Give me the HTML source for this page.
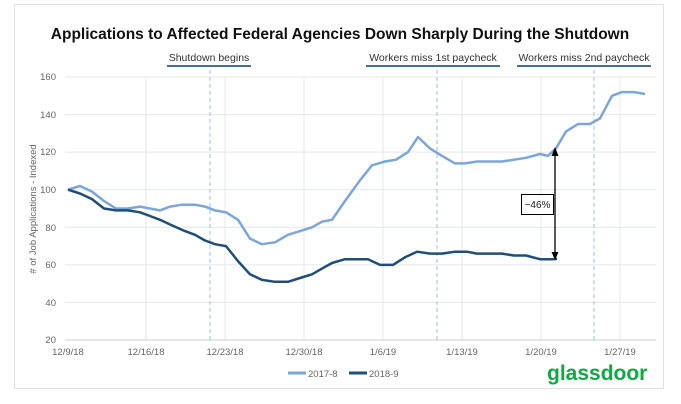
<!DOCTYPE html>
<html><head><meta charset="utf-8"><style>
body{margin:0;background:#fff;}
svg{display:block;font-family:"Liberation Sans",sans-serif;}
</style></head><body>
<svg width="681" height="404" viewBox="0 0 681 404">
<rect x="14.5" y="4.5" width="649" height="384" fill="#fff" stroke="#e2e2e2"/>
<text x="340" y="39" text-anchor="middle" font-size="15.5" font-weight="bold" fill="#111">Applications to Affected Federal Agencies Down Sharply During the Shutdown</text>
<g font-size="10.5" fill="#333" text-anchor="middle">
<text x="209" y="61">Shutdown begins</text>
<text x="433" y="61">Workers miss 1st paycheck</text>
<text x="584" y="61">Workers miss 2nd paycheck</text>
</g>
<g stroke="#3f6fa6" stroke-width="2">
<line x1="167" y1="66" x2="251" y2="66"/>
<line x1="366" y1="66" x2="500" y2="66"/>
<line x1="517" y1="66" x2="651" y2="66"/>
</g>
<g stroke="#e4e7ec" stroke-width="1">
<line x1="65" y1="77" x2="656" y2="77"/>
<line x1="65" y1="114.6" x2="656" y2="114.6"/>
<line x1="65" y1="152.1" x2="656" y2="152.1"/>
<line x1="65" y1="189.7" x2="656" y2="189.7"/>
<line x1="65" y1="227.3" x2="656" y2="227.3"/>
<line x1="65" y1="264.9" x2="656" y2="264.9"/>
<line x1="65" y1="302.4" x2="656" y2="302.4"/>
<line x1="146" y1="77" x2="146" y2="340"/>
<line x1="225" y1="77" x2="225" y2="340"/>
<line x1="304" y1="77" x2="304" y2="340"/>
<line x1="383" y1="77" x2="383" y2="340"/>
<line x1="462" y1="77" x2="462" y2="340"/>
<line x1="541" y1="77" x2="541" y2="340"/>
<line x1="620" y1="77" x2="620" y2="340"/>
</g>
<line x1="65" y1="340" x2="656" y2="340" stroke="#ccd" />
<g stroke="#9fbfe0" stroke-width="1" stroke-dasharray="4,3">
<line x1="210" y1="70" x2="210" y2="340"/>
<line x1="437" y1="70" x2="437" y2="340"/>
<line x1="594" y1="70" x2="594" y2="340"/>
</g>
<g font-size="9.5" fill="#666" text-anchor="end">
<text x="56" y="80">160</text><text x="56" y="118">140</text><text x="56" y="155">120</text><text x="56" y="193">100</text><text x="56" y="231">80</text><text x="56" y="268">60</text><text x="56" y="306">40</text><text x="56" y="343">20</text>
</g>
<g font-size="9.5" fill="#666" text-anchor="middle">
<text x="68" y="355">12/9/18</text><text x="146" y="355">12/16/18</text><text x="225" y="355">12/23/18</text><text x="304" y="355">12/30/18</text><text x="383" y="355">1/6/19</text><text x="462" y="355">1/13/19</text><text x="541" y="355">1/20/19</text><text x="620" y="355">1/27/19</text>
</g>
<text transform="translate(36,209) rotate(-90)" font-size="9.5" fill="#666" text-anchor="middle"># of Job Applications - Indexed</text>
<polyline fill="none" stroke="#7aa6da" stroke-width="2.5" stroke-linejoin="round" points="68,189.7 80,186 92,191.6 104,201 116,208.5 128,208.5 140,206.6 150,208.5 160,210.4 170,206.6 182,204.7 195,204.7 205,206.6 215,210.4 226,212.3 238,219.8 250,238.6 262,244.2 275,242.3 288,234.8 300,231.1 312,227.3 322,221.7 332,219.8 345,201 360,180.3 372,165.3 385,161.5 396,159.7 408,152.1 418,137.1 430,148.4 442,155.9 455,163.4 465,163.4 477,161.5 490,161.5 502,161.5 514,159.7 526,157.8 540,154 548,155.9 556,148.4 566,131.5 578,124 590,124 600,118.4 612,95.8 622,92.1 634,92.1 645,94"/>
<polyline fill="none" stroke="#1f4e79" stroke-width="2.5" stroke-linejoin="round" points="68,189.7 80,193.5 92,199.1 104,208.5 116,210.4 128,210.4 140,212.3 150,216 160,219.8 172,225.4 185,231.1 195,234.8 205,240.5 215,244.2 226,246.1 238,261.1 250,274.3 262,279.9 275,281.8 288,281.8 300,278 312,274.3 322,268.6 332,263 345,259.2 357,259.2 368,259.2 380,264.9 393,264.9 405,257.3 417,251.7 430,253.6 442,253.6 455,251.7 467,251.7 477,253.6 490,253.6 502,253.6 514,255.5 526,255.5 540,259.2 552,259.2 557,259"/>
<line x1="555" y1="156" x2="555" y2="252" stroke="#000" stroke-width="1.3"/>
<polygon points="555,147 551.5,156 558.5,156" fill="#000"/>
<polygon points="555,260 551.5,252 558.5,252" fill="#000"/>
<rect x="521.5" y="194.5" width="32" height="20" fill="#fff" stroke="#000"/>
<text x="537.5" y="208" font-size="10" text-anchor="middle" fill="#222">−46%</text>
<line x1="288" y1="373" x2="306" y2="373" stroke="#7aa6da" stroke-width="3"/>
<text x="308" y="377" font-size="9.5" fill="#666">2017-8</text>
<line x1="349" y1="373" x2="367" y2="373" stroke="#1f4e79" stroke-width="3"/>
<text x="369" y="377" font-size="9.5" fill="#666">2018-9</text>
<text x="547" y="380" font-size="21" font-weight="bold" fill="#0caa41">glassdoor</text>
</svg>
</body></html>
